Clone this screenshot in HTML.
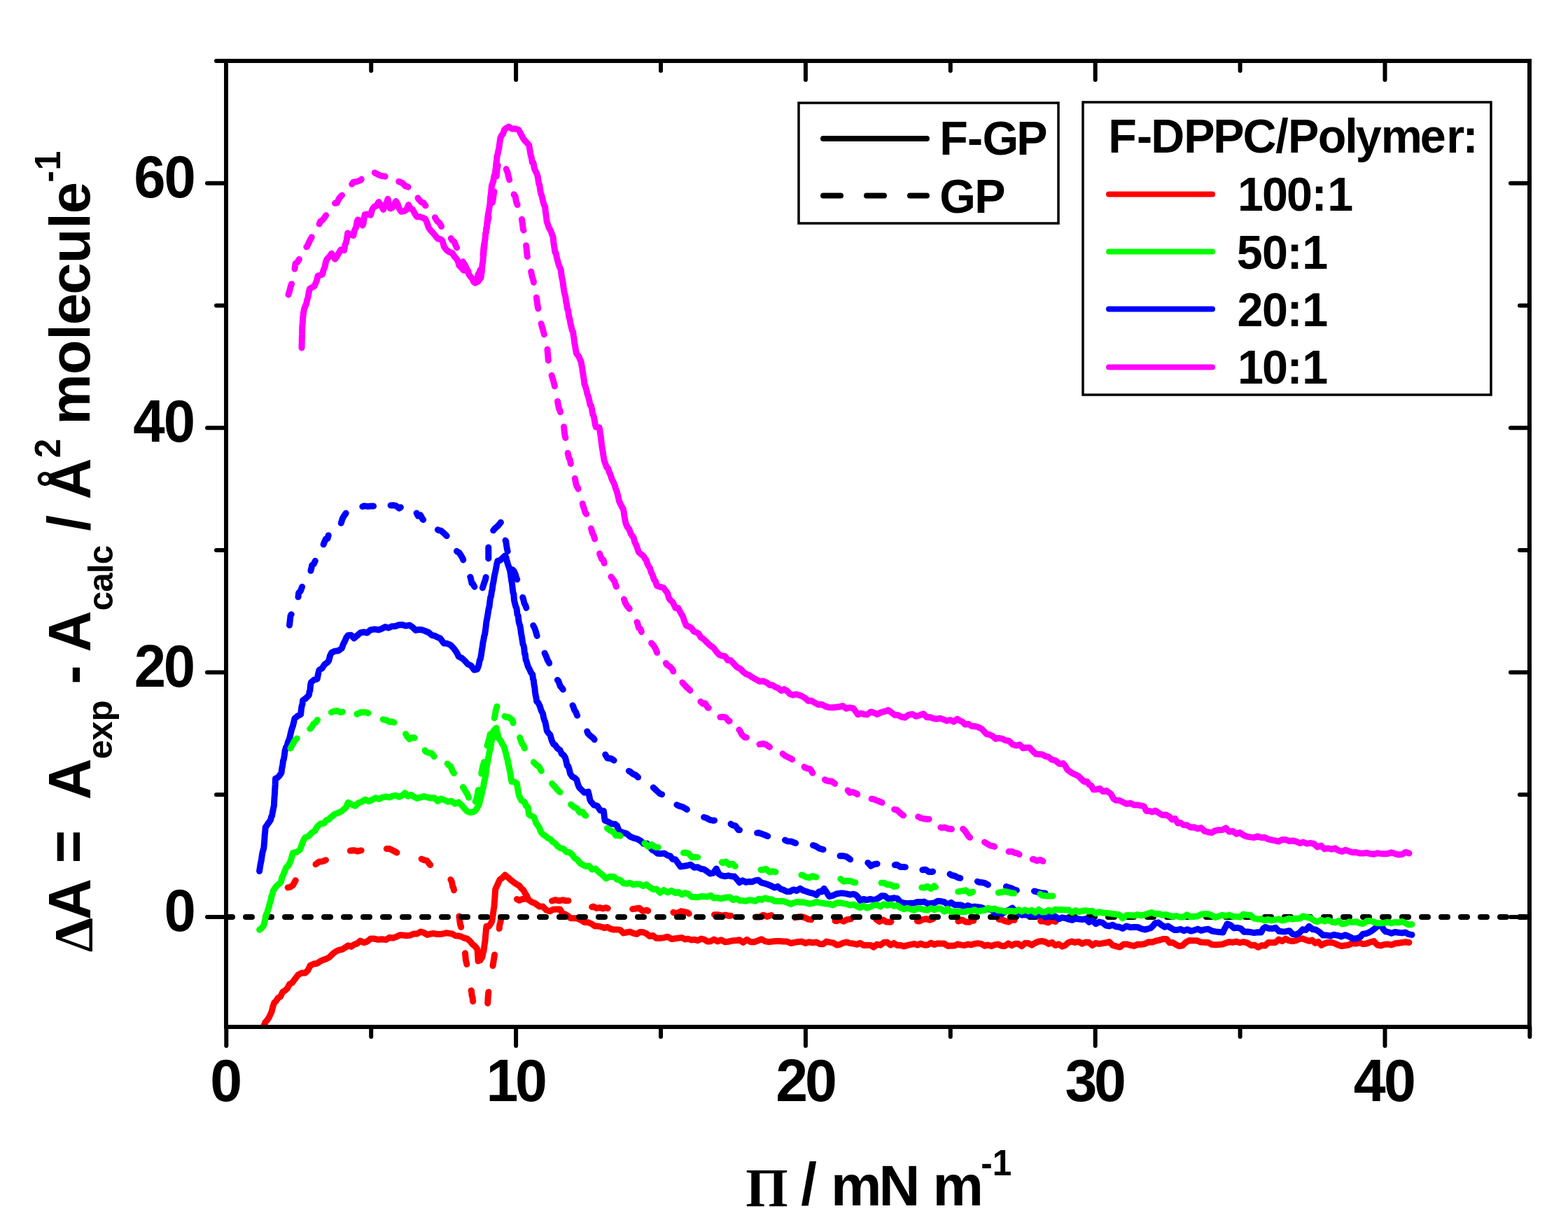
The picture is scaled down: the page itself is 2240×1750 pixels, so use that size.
<!DOCTYPE html>
<html><head><meta charset="utf-8"><title>Delta A vs surface pressure</title>
<style>html,body{margin:0;padding:0;background:#fff;}svg{display:block;}</style>
</head><body>
<svg width="2240" height="1750" viewBox="0 0 2240 1750">
<rect width="2240" height="1750" fill="#fff"/>
<defs><clipPath id="pc"><rect x="323.0" y="87.0" width="1862.0" height="1380.0"/></clipPath></defs>
<g clip-path="url(#pc)">
<polyline points="371.0,1478.0 372.6,1471.6 374.3,1470.0 376.8,1466.0 379.2,1460.0 381.7,1457.4 384.2,1453.5 386.2,1449.4 388.1,1445.1 390.1,1437.2 392.0,1431.9 394.0,1430.6 397.3,1425.5 400.6,1423.7 403.9,1417.1 407.2,1415.0 410.4,1412.1 413.7,1405.8 417.4,1404.0 421.1,1398.9 426.0,1392.6 431.0,1390.1 435.9,1389.9 439.5,1386.7 443.2,1379.4 448.1,1377.0 453.1,1376.3 458.0,1372.9 462.1,1371.3 466.2,1369.8 470.3,1367.6 475.2,1362.7 480.2,1359.0 484.5,1357.1 488.8,1356.3 493.1,1353.7 497.4,1350.7 501.7,1352.4 506.0,1349.3 510.3,1347.9 514.6,1344.0 519.5,1346.6 524.5,1345.1 529.4,1341.0 534.3,1341.0 540.1,1342.3 545.8,1341.8 551.6,1342.4 556.5,1339.2 561.4,1340.0 566.4,1338.3 571.3,1335.7 576.2,1336.0 581.1,1336.8 586.0,1336.1 591.0,1334.1 595.9,1334.0 600.8,1331.1 605.6,1332.4 610.4,1335.4 615.2,1334.1 620.0,1333.6 624.3,1334.5 628.7,1334.6 633.0,1333.8 637.3,1332.8 641.7,1333.4 646.0,1334.0 650.5,1336.7 655.0,1337.1 659.0,1338.0 663.0,1340.0 667.0,1340.9 671.0,1344.0 675.0,1348.9 679.0,1352.1 682.0,1356.4 682.3,1361.2 682.7,1365.9 683.0,1373.0 686.0,1371.6 689.0,1367.2 690.0,1361.5 691.0,1358.3 692.0,1350.8 692.5,1347.2 693.0,1344.3 693.5,1337.8 694.0,1332.5 694.5,1326.8 695.0,1323.2 698.5,1323.5 702.0,1317.8 702.8,1315.8 703.6,1310.6 704.4,1305.5 705.2,1299.5 706.0,1294.4 706.4,1288.1 706.8,1283.3 707.2,1277.7 707.6,1271.0 708.0,1269.6 711.0,1263.3 714.0,1256.7 717.7,1254.0 721.4,1249.9 725.7,1253.4 730.0,1257.3 734.0,1260.5 738.0,1263.2 742.0,1265.5 745.0,1269.3 748.0,1271.9 750.3,1276.5 752.7,1279.9 755.0,1285.4 759.5,1288.6 764.0,1290.3 767.4,1292.7 770.7,1295.1 775.6,1295.1 780.5,1300.1 785.4,1301.9 790.3,1299.2 795.1,1298.9 800.0,1298.9 803.7,1305.2 807.3,1306.0 811.0,1308.4 815.3,1311.8 819.5,1311.8 823.8,1311.8 829.3,1314.0 834.8,1317.5 840.3,1317.7 844.9,1319.6 849.5,1322.9 854.0,1323.1 858.6,1323.9 863.2,1325.5 867.8,1324.5 872.3,1327.0 876.9,1328.1 881.5,1327.9 886.0,1328.5 890.6,1332.9 895.2,1332.0 900.0,1331.1 904.7,1333.2 909.5,1334.5 914.2,1331.4 919.0,1331.8 923.6,1333.7 928.2,1337.6 932.8,1336.5 937.4,1340.3 942.9,1340.2 948.4,1339.6 953.8,1338.2 959.3,1341.5 964.8,1340.7 969.4,1340.1 974.0,1339.4 978.5,1341.9 983.1,1341.3 987.7,1342.7 992.3,1342.2 996.9,1343.6 1001.5,1341.1 1006.0,1342.1 1010.6,1345.1 1015.2,1344.7 1019.8,1342.1 1025.0,1344.8 1030.3,1342.7 1035.5,1345.7 1040.7,1345.2 1045.9,1344.0 1051.2,1343.5 1056.4,1342.7 1061.6,1346.3 1066.9,1342.3 1072.1,1345.5 1077.3,1345.8 1082.5,1343.9 1087.8,1341.8 1093.0,1344.6 1098.2,1345.6 1103.5,1345.0 1108.7,1344.6 1114.0,1344.6 1119.2,1345.0 1124.5,1344.9 1129.7,1347.5 1134.9,1346.4 1140.2,1345.4 1145.4,1345.0 1150.6,1347.4 1155.8,1345.8 1161.1,1346.7 1166.3,1345.9 1171.1,1348.5 1175.9,1348.8 1180.7,1345.1 1185.6,1346.1 1190.4,1346.9 1195.2,1350.0 1200.0,1349.2 1204.8,1346.9 1209.6,1346.0 1214.4,1347.6 1219.2,1348.0 1224.0,1349.2 1228.8,1347.3 1233.7,1350.4 1238.5,1350.3 1243.3,1350.2 1248.1,1353.1 1252.9,1349.0 1257.7,1350.2 1262.5,1346.5 1267.3,1346.0 1272.1,1349.9 1276.9,1347.4 1281.8,1350.4 1286.6,1350.3 1291.4,1351.9 1296.2,1350.4 1301.0,1349.4 1305.8,1348.3 1310.6,1350.0 1315.4,1348.0 1320.2,1349.9 1325.0,1350.0 1329.8,1347.1 1334.6,1349.4 1339.4,1347.8 1344.2,1348.0 1349.0,1348.0 1353.8,1351.4 1358.7,1351.0 1363.5,1351.0 1368.3,1348.8 1373.1,1349.9 1377.9,1350.6 1382.7,1348.9 1387.5,1349.7 1392.3,1348.2 1397.1,1347.6 1401.9,1348.4 1406.7,1351.2 1411.5,1349.9 1416.3,1351.6 1421.2,1349.6 1426.0,1348.9 1430.8,1351.3 1435.6,1351.4 1440.4,1347.9 1445.2,1350.7 1450.0,1348.2 1454.8,1348.3 1459.6,1351.7 1464.4,1347.3 1469.2,1347.5 1474.0,1350.1 1478.9,1347.0 1483.7,1345.0 1488.5,1344.5 1493.3,1345.5 1498.1,1348.4 1502.9,1346.3 1507.7,1350.5 1512.5,1348.8 1517.3,1352.1 1521.8,1350.5 1526.3,1346.4 1530.8,1344.9 1535.8,1346.4 1540.8,1345.2 1545.8,1348.2 1550.8,1346.0 1555.8,1346.3 1560.6,1350.5 1565.4,1347.3 1570.2,1348.4 1575.0,1347.6 1579.8,1346.8 1584.6,1345.6 1589.7,1350.5 1594.9,1351.9 1600.0,1353.1 1605.0,1348.9 1610.1,1348.9 1615.1,1350.3 1620.1,1351.4 1625.2,1349.1 1630.2,1349.3 1635.4,1348.4 1640.6,1345.7 1645.8,1346.1 1650.9,1344.2 1656.1,1343.1 1661.3,1341.5 1666.5,1341.5 1671.0,1346.8 1675.5,1346.5 1680.1,1349.5 1684.6,1351.6 1689.3,1350.8 1694.0,1346.2 1698.7,1343.6 1704.2,1343.7 1709.8,1343.7 1715.4,1346.0 1720.9,1346.2 1726.0,1346.4 1731.0,1349.3 1736.0,1349.8 1741.0,1349.5 1746.1,1349.1 1751.1,1347.1 1756.1,1345.7 1761.2,1346.2 1766.2,1345.1 1771.2,1346.7 1776.4,1345.7 1781.7,1346.8 1786.9,1350.4 1792.2,1350.0 1797.4,1353.3 1802.3,1350.6 1807.2,1350.9 1812.1,1346.4 1817.0,1346.6 1821.9,1346.5 1826.8,1342.0 1831.7,1344.5 1836.5,1341.1 1841.3,1343.7 1846.1,1344.6 1850.8,1343.9 1855.6,1341.7 1860.4,1340.8 1865.2,1342.6 1870.0,1344.3 1874.4,1343.1 1878.8,1347.2 1883.3,1345.4 1887.7,1350.3 1892.1,1347.9 1897.2,1346.4 1902.2,1346.3 1906.9,1347.7 1911.6,1350.0 1916.3,1351.5 1921.4,1350.7 1926.6,1350.1 1931.7,1347.4 1936.9,1348.1 1942.0,1346.6 1947.2,1348.6 1952.3,1348.0 1957.5,1345.8 1962.6,1344.6 1967.7,1350.0 1972.7,1350.9 1977.7,1349.3 1982.8,1348.9 1987.8,1349.9 1992.8,1347.8 1997.9,1347.2 2002.9,1346.5 2008.0,1345.8 2013.0,1346.5" fill="none" stroke="#ff0000" stroke-width="9" stroke-linejoin="round" stroke-linecap="round"/>
<polyline points="411.2,1267.9 414.9,1267.1 418.6,1264.3 422.3,1257.6 426.0,1255.0 429.5,1255.1 433.0,1251.5 436.5,1248.0 440.1,1243.3 443.6,1241.4 447.1,1238.2 450.6,1235.0 455.5,1231.3 460.5,1230.6 465.4,1228.7 470.3,1228.3 475.2,1227.8 480.2,1226.0 485.1,1222.5 490.0,1220.5 495.0,1218.0 499.9,1215.4 505.4,1214.7 510.9,1216.0 516.5,1214.8 522.0,1214.5 526.9,1216.2 531.8,1214.1 536.8,1213.8 541.7,1211.8 546.6,1210.4 551.5,1212.6 556.5,1212.6 561.4,1215.0 567.0,1218.1 572.5,1217.6 578.0,1216.3 583.6,1220.3 588.0,1221.6 592.4,1223.1 596.9,1225.6 601.3,1226.7 605.7,1228.6 610.0,1229.6 614.3,1235.3 618.7,1238.2 623.0,1237.6 627.3,1243.1 631.0,1245.1 634.7,1246.2 637.9,1249.5 641.0,1252.2 644.2,1257.1 645.5,1260.0 646.7,1266.3 648.0,1269.0 649.2,1276.1 650.5,1281.0 651.7,1283.9 653.0,1289.2 653.7,1296.0 654.4,1300.4 655.2,1304.7 655.9,1308.8 656.6,1314.5 657.5,1320.8 658.5,1323.0 659.4,1330.9 660.4,1332.7 661.3,1340.1 662.3,1342.1 663.2,1349.5 663.6,1353.1 664.1,1356.9 664.5,1361.7 665.0,1367.0 665.4,1371.4 666.2,1374.8 667.1,1378.9 667.9,1384.9 668.8,1391.3 669.6,1394.5 670.5,1396.7 671.3,1404.6 672.0,1408.8 672.8,1414.3 673.5,1415.7 674.2,1422.8 675.0,1424.4 675.7,1431.7 676.1,1435.2 676.5,1440.3 676.9,1448.4 677.4,1450.2 677.8,1457.3 678.2,1464.0 678.6,1466.6 679.2,1471.8 679.7,1480.1 680.3,1483.5 680.9,1490.2 681.4,1492.6 682.0,1499.4 686.0,1498.6 690.0,1500.8 690.5,1493.4 691.0,1492.5 691.5,1483.6 692.1,1481.9 692.6,1474.1 693.1,1470.3 693.6,1468.0 694.1,1460.4 694.7,1455.7 695.2,1453.2 695.7,1447.1 696.2,1440.8 696.5,1440.0 696.8,1431.3 697.1,1425.8 697.4,1422.2 697.7,1418.4 698.5,1413.7 699.4,1405.7 700.2,1401.5 701.0,1394.9 701.8,1391.5 702.7,1387.6 703.5,1382.3 704.4,1377.7 705.3,1371.8 706.1,1367.0 707.0,1361.0 707.9,1354.7 708.7,1349.0 709.6,1346.3 710.4,1340.2 711.3,1334.6 712.1,1331.6 713.0,1328.8 713.8,1321.0 714.8,1318.1 715.7,1312.3 716.7,1308.0 719.6,1301.5 722.6,1300.2 725.5,1292.2 729.4,1291.3 733.3,1288.1 737.2,1283.9 741.7,1286.3 746.1,1284.4 750.5,1284.0 755.0,1283.9 760.3,1283.2 765.7,1281.6 771.0,1282.6 775.4,1283.3 779.8,1286.6 784.1,1287.7 788.5,1287.0" fill="none" stroke="#ff0000" stroke-width="9" stroke-linejoin="round" stroke-linecap="round" stroke-dasharray="16 38"/>
<polyline points="788.5,1287.0 793.5,1285.6 798.5,1286.8 803.5,1285.8 808.5,1286.7 813.5,1286.6 818.5,1285.6 823.5,1286.9 828.5,1292.0 833.5,1291.0 838.5,1292.4 843.1,1296.5 847.6,1295.0 852.2,1297.4 856.8,1296.6 861.3,1298.0 865.9,1296.7 870.5,1298.6 875.1,1299.5 879.6,1297.9 884.2,1298.7 888.8,1298.2 893.4,1295.4 898.4,1299.0 903.3,1298.7 908.3,1298.0 913.3,1297.3 918.3,1301.5 923.2,1300.3 928.2,1301.9 933.3,1302.6 938.4,1301.8 943.6,1302.8 948.7,1300.4 953.8,1302.2 958.5,1301.3 963.2,1304.1 967.9,1304.5 972.7,1301.8 977.4,1302.6 982.1,1303.6 986.8,1307.5 991.7,1305.4 996.6,1306.4 1001.5,1305.1 1006.3,1306.1 1011.2,1305.7 1016.1,1305.7 1021.1,1306.8 1026.2,1306.8 1031.2,1308.2 1036.2,1307.2 1041.3,1308.3 1046.3,1308.0 1051.4,1308.6 1056.4,1307.2 1061.0,1305.8 1065.6,1309.8 1070.1,1311.2 1074.7,1311.9 1079.9,1309.9 1085.2,1310.0 1090.4,1307.2 1095.7,1309.4 1100.9,1307.8 1106.2,1306.0 1111.4,1304.5 1116.9,1308.9 1122.3,1310.4 1127.8,1307.4 1133.3,1311.4 1138.6,1310.2 1143.8,1309.5 1149.1,1310.5 1154.4,1313.1 1159.7,1314.0 1165.0,1310.8 1170.2,1313.8 1175.5,1311.7 1180.4,1314.7 1185.3,1313.0 1190.2,1315.4 1195.1,1315.8 1200.0,1313.7 1205.1,1316.2 1210.3,1313.6 1215.4,1312.9 1220.5,1315.5 1225.7,1313.4 1230.8,1314.5 1235.9,1315.2 1241.0,1316.0 1246.2,1313.8 1251.3,1313.1 1256.4,1316.6 1261.5,1314.0 1266.6,1317.1 1271.8,1317.2 1276.9,1315.2 1282.0,1315.9 1287.2,1316.5 1292.3,1317.3 1297.4,1316.5 1302.6,1315.7 1307.7,1315.3 1312.8,1316.1 1318.0,1313.6 1323.1,1312.6 1328.2,1314.2 1333.3,1312.4 1338.4,1313.0 1343.6,1316.3 1348.7,1314.6 1353.8,1315.0 1358.9,1313.0 1364.1,1315.1 1369.2,1316.1 1374.3,1314.0 1379.5,1316.9 1384.6,1317.3 1389.7,1314.6 1394.9,1317.0 1400.0,1316.1 1405.1,1316.9 1410.3,1315.3 1415.4,1316.7 1420.5,1316.7 1425.7,1313.4 1430.8,1313.4 1435.9,1315.9 1441.1,1317.0 1446.2,1313.7 1451.3,1314.9 1456.4,1315.8 1461.6,1315.0 1466.7,1315.5 1471.8,1315.6 1476.9,1316.1 1482.0,1317.1 1487.2,1315.8 1492.3,1316.2 1497.4,1317.9 1502.6,1314.6 1507.7,1316.7" fill="none" stroke="#ff0000" stroke-width="9" stroke-linejoin="round" stroke-linecap="round" stroke-dasharray="24 38"/>
<line x1="323.0" y1="1310.0" x2="2185.0" y2="1310.0" stroke="#000" stroke-width="8" stroke-linecap="round" stroke-dasharray="9 19"/>
<polyline points="370.6,1244.5 371.5,1238.4 372.4,1232.9 373.3,1229.3 374.1,1223.3 375.0,1217.9 375.9,1214.5 376.8,1211.8 377.3,1205.9 377.8,1200.4 378.2,1192.6 378.7,1188.6 379.2,1182.0 382.9,1176.6 386.6,1171.3 387.6,1166.9 388.6,1165.3 389.5,1160.0 390.5,1155.1 391.5,1150.3 391.8,1142.7 392.1,1138.2 392.4,1134.6 392.6,1130.0 392.9,1125.6 393.2,1120.7 393.5,1112.2 396.3,1111.1 399.2,1108.1 402.0,1104.0 402.8,1097.4 403.7,1093.6 404.5,1086.7 405.3,1085.2 406.2,1079.8 407.0,1073.2 408.5,1067.6 410.0,1065.8 411.5,1059.8 413.0,1056.7 414.3,1052.0 415.6,1046.0 416.9,1041.1 418.3,1037.4 419.6,1032.2 420.9,1026.5 425.2,1022.8 429.6,1020.7 430.4,1012.9 431.1,1008.5 431.9,1006.7 432.6,1000.7 437.0,997.5 441.4,992.8 442.1,987.8 442.9,986.3 443.6,978.4 444.3,974.9 448.7,971.1 453.1,970.1 454.6,962.6 456.0,957.1 459.9,954.9 463.8,949.1 467.7,946.3 469.7,943.9 471.6,936.4 473.6,932.4 478.5,930.2 483.4,929.6 488.3,926.0 490.5,919.9 492.6,916.0 494.8,910.9 497.0,907.7 501.4,907.3 505.8,911.7 510.2,908.1 514.6,904.0 519.5,903.0 524.4,904.0 529.3,899.9 535.1,898.9 541.0,899.8 545.7,898.0 550.4,895.5 555.1,897.0 559.8,894.7 564.5,894.7 569.6,892.7 574.8,892.6 579.9,894.1 585.0,893.1 589.4,896.0 593.8,900.4 598.2,899.4 602.6,899.8 607.5,901.5 612.3,903.5 617.2,907.6 621.1,908.3 625.1,910.4 629.0,912.0 633.9,918.9 638.7,919.3 643.6,921.3 646.5,924.3 649.5,927.9 652.4,932.1 655.3,938.0 659.7,940.1 664.1,944.0 668.5,948.9 672.9,950.8 677.3,957.0 681.7,956.0 682.9,953.1 684.1,949.5 685.2,943.3 686.4,941.1 687.6,934.2 688.4,928.3 689.2,924.1 690.0,917.6 690.8,914.4 691.7,908.7 692.5,906.7 693.3,901.5 694.1,895.2 694.9,888.2 695.7,884.2 696.6,879.1 697.4,874.0 698.2,869.1 699.0,866.9 699.9,858.6 700.7,853.2 701.5,852.1 702.4,845.4 703.2,842.3 704.1,834.7 704.9,831.8 705.8,825.7 706.6,821.3 707.7,816.7 708.8,811.2 709.9,805.0 711.0,801.1 714.4,800.6 717.9,797.3 721.3,794.0 722.8,795.8 724.2,801.6 725.7,806.6 727.1,810.3 728.6,815.5 729.3,819.4 730.1,825.1 730.8,830.3 731.5,833.6 732.3,841.6 733.0,846.9 733.8,848.2 734.5,857.3 735.7,862.5 736.8,866.5 738.0,869.0 739.1,878.0 740.3,879.9 741.1,888.2 742.0,891.5 742.8,893.4 743.7,898.5 744.5,905.2 745.4,909.5 746.2,914.9 747.0,920.3 747.9,921.8 748.7,925.4 749.5,934.1 750.3,934.7 751.2,943.1 752.0,944.3 754.2,951.8 756.4,956.0 758.6,960.9 760.8,963.8 761.5,970.0 762.3,971.8 763.0,978.6 763.8,981.9 764.5,989.1 765.2,993.4 766.0,996.8 766.7,1001.8 768.9,1004.0 771.1,1008.5 773.3,1015.3 775.5,1019.3 776.7,1025.6 777.8,1029.1 779.0,1031.8 780.1,1037.4 781.3,1043.9 783.7,1047.5 786.0,1049.9 788.4,1058.3 790.7,1062.9 793.1,1064.4 796.5,1069.3 800.0,1071.5 802.4,1076.9 804.9,1078.5 807.3,1081.8 808.8,1087.3 810.3,1093.9 811.7,1094.4 813.2,1098.9 814.7,1105.5 817.7,1109.7 820.8,1111.1 823.8,1113.8 825.6,1120.6 827.5,1125.1 829.3,1126.9 834.8,1132.3 840.3,1131.1 841.5,1135.8 842.8,1142.4 844.0,1144.9 848.5,1150.2 853.1,1151.1 857.7,1157.9 862.3,1158.5 862.9,1162.6 863.5,1168.4 864.1,1172.0 869.0,1174.1 873.9,1176.9 878.8,1177.3 881.5,1179.7 884.2,1186.6 889.7,1189.4 895.2,1190.9 900.1,1195.0 905.0,1197.1 909.9,1198.3 914.8,1200.9 919.6,1205.4 924.5,1205.1 928.2,1210.1 931.9,1214.2 935.5,1215.9 939.2,1219.3 944.1,1219.6 948.9,1218.9 953.8,1222.1 957.5,1222.9 961.1,1227.6 964.8,1227.7 968.5,1232.9 972.2,1238.1 977.1,1237.3 981.9,1236.5 986.8,1235.2 991.7,1239.2 996.6,1238.7 1001.5,1241.2 1005.8,1241.9 1010.0,1244.7 1014.3,1248.0 1018.8,1247.3 1023.4,1240.9 1027.1,1248.7 1030.8,1250.9 1035.7,1251.8 1040.5,1250.8 1045.4,1252.0 1049.1,1252.1 1052.7,1255.9 1056.4,1260.7 1061.0,1257.8 1065.6,1260.4 1070.1,1259.4 1074.7,1259.7 1079.0,1257.9 1083.2,1257.3 1087.5,1260.8 1092.4,1262.1 1097.3,1263.8 1102.2,1265.7 1106.6,1268.1 1111.0,1266.4 1115.4,1270.1 1119.8,1271.6 1124.2,1273.7 1128.8,1273.5 1133.3,1270.9 1138.2,1272.5 1143.1,1269.3 1148.0,1272.3 1152.6,1273.7 1157.2,1275.4 1161.7,1276.2 1166.3,1278.6 1170.0,1273.8 1173.6,1274.1 1177.3,1269.4 1180.9,1274.8 1184.6,1280.6 1189.7,1279.3 1194.9,1277.0 1200.0,1276.1 1204.8,1276.1 1209.6,1276.9 1214.4,1278.1 1219.2,1277.2 1222.4,1278.2 1225.6,1281.4 1228.8,1286.4 1233.6,1284.5 1238.4,1285.6 1243.3,1284.3 1248.1,1285.5 1251.9,1284.5 1255.8,1282.6 1259.6,1279.7 1264.1,1279.9 1268.6,1283.8 1273.0,1283.6 1277.5,1282.8 1282.0,1283.7 1286.5,1289.0 1291.3,1290.0 1296.2,1290.7 1301.0,1290.3 1305.8,1290.0 1310.6,1288.5 1315.4,1288.7 1320.2,1288.1 1325.0,1290.7 1329.8,1290.5 1334.6,1290.0 1339.4,1287.3 1344.2,1287.6 1349.0,1288.6 1353.8,1292.1 1358.7,1289.3 1363.5,1292.7 1368.3,1292.8 1373.1,1292.9 1377.9,1295.7 1382.7,1293.6 1387.5,1295.7 1392.3,1295.1 1397.1,1295.8 1401.9,1296.4 1406.7,1298.6 1411.5,1298.7 1416.3,1299.4 1421.2,1304.5 1426.0,1302.3 1430.8,1305.9 1435.9,1302.5 1441.1,1300.1 1446.2,1297.2 1450.7,1301.7 1455.1,1304.6 1459.6,1307.2 1464.4,1306.8 1469.2,1307.7 1474.0,1308.1 1478.9,1307.7 1483.7,1307.8 1488.5,1306.6 1493.3,1310.2 1498.1,1309.3 1502.9,1308.1 1507.7,1309.2 1512.5,1312.9 1517.3,1310.8 1522.1,1311.7 1526.9,1313.3 1531.8,1314.4 1536.6,1312.4 1541.4,1313.0 1546.2,1313.5 1551.0,1312.7 1555.8,1317.4 1560.6,1314.6 1565.4,1319.7 1570.2,1317.1 1575.0,1318.1 1579.8,1322.1 1584.6,1323.0 1589.4,1321.3 1594.2,1323.7 1599.0,1324.3 1603.8,1326.4 1609.2,1323.0 1614.7,1324.8 1620.1,1324.5 1625.1,1324.5 1630.2,1326.7 1635.2,1328.0 1640.3,1326.8 1643.7,1325.8 1647.0,1322.8 1650.4,1318.7 1654.9,1318.0 1659.5,1321.6 1664.0,1324.3 1668.5,1323.0 1673.0,1325.9 1677.5,1328.4 1682.1,1328.5 1686.6,1327.4 1691.5,1329.7 1696.4,1327.7 1701.3,1330.1 1706.2,1328.9 1711.1,1327.1 1716.0,1329.3 1720.9,1327.9 1726.1,1327.2 1731.4,1330.0 1736.6,1330.9 1741.9,1331.5 1747.1,1332.1 1749.1,1327.4 1751.1,1323.9 1753.1,1319.8 1757.9,1321.6 1762.8,1325.9 1767.6,1325.3 1772.5,1326.3 1777.3,1331.3 1782.1,1331.0 1787.0,1331.8 1791.8,1332.6 1796.7,1331.7 1801.5,1332.1 1804.5,1326.5 1807.5,1324.5 1812.4,1326.3 1817.3,1326.6 1822.3,1325.3 1827.2,1330.3 1832.1,1330.9 1837.0,1330.7 1842.0,1329.7 1846.9,1334.7 1851.8,1334.9 1856.3,1332.7 1860.9,1327.7 1865.5,1328.6 1870.0,1323.3 1875.0,1327.5 1880.0,1328.3 1885.1,1331.5 1890.1,1336.1 1895.3,1336.1 1900.6,1337.0 1905.8,1335.3 1911.1,1336.3 1916.3,1337.9 1921.8,1335.8 1927.4,1338.0 1933.0,1341.0 1938.5,1340.5 1942.8,1338.9 1947.0,1334.2 1951.3,1333.8 1955.6,1332.1 1959.9,1329.6 1964.2,1326.3 1968.4,1323.0 1972.7,1320.2 1976.1,1327.4 1979.4,1330.9 1982.8,1331.4 1987.8,1333.3 1992.8,1331.5 1997.9,1332.2 2002.9,1332.9 2007.6,1331.9 2012.3,1334.6 2017.0,1335.4" fill="none" stroke="#0000ff" stroke-width="9" stroke-linejoin="round" stroke-linecap="round"/>
<polyline points="413.5,893.3 414.0,888.9 414.5,884.6 415.0,879.9 417.1,875.9 419.1,870.3 421.2,866.4 423.2,857.8 425.3,855.0 426.0,852.8 426.7,847.1 429.4,844.2 432.1,836.9 434.8,834.5 437.4,829.6 440.1,827.0 442.8,823.2 443.8,815.9 444.8,811.9 445.8,807.3 448.3,805.5 450.8,800.2 453.3,793.0 455.9,791.2 458.4,783.6 460.9,781.1 463.4,774.4 465.6,769.8 467.8,769.6 469.9,762.6 472.1,758.6 476.5,758.6 480.9,754.7 485.3,748.7 487.3,747.3 489.2,741.0 491.2,737.3 495.1,731.8 499.0,731.6 502.9,727.0 508.8,726.8 514.6,725.0 519.8,722.8 524.9,723.4 530.1,722.9 535.2,723.1 539.6,720.9 543.9,720.0 548.3,719.4 552.7,717.9 557.1,722.0 561.5,721.7 565.9,722.7 570.3,726.1 574.7,723.2 579.5,724.7 584.2,727.6 589.0,730.8 593.8,730.2 597.2,737.1 600.6,735.9 604.0,742.0 608.4,745.6 612.8,745.2 617.2,751.8 621.6,753.2 626.0,757.3 630.0,758.1 634.0,761.6 638.1,765.5 642.1,772.2 644.8,772.8 647.6,779.3 650.3,784.0 653.0,788.0 655.7,789.4 658.5,793.4 661.2,798.1 663.0,804.0 664.9,805.8 666.7,813.4 668.5,818.4 670.3,823.4 672.1,824.5 674.0,833.3 675.8,834.3 678.7,839.8 681.7,845.4 684.6,851.1 686.8,843.5 689.0,840.9 691.2,834.1 693.4,828.0 694.5,822.9 695.6,817.1 696.7,811.6 697.8,806.8 697.8,804.1 697.8,800.4 697.8,791.7 697.8,786.2 697.8,785.3 697.8,778.3 697.8,772.7 698.5,766.1 699.3,761.8 703.3,759.5 707.3,754.6 711.4,751.2 715.4,746.2 716.9,755.3 718.3,756.7 719.8,764.0 721.2,770.8 722.7,773.0 723.7,780.4 724.8,786.2 725.8,789.6 726.9,795.1 727.9,796.9 729.0,803.2 730.0,806.8 732.1,813.9 734.1,815.6 736.2,820.4 738.2,826.9 740.3,830.3 741.6,835.7 742.8,838.2 744.1,843.2 745.3,849.1 746.6,852.8 747.8,856.8 749.1,862.1 750.9,865.3 752.6,870.8 754.4,877.8 756.1,882.1 757.9,885.1 759.9,889.4 761.8,893.6 763.8,897.3 765.7,903.0 767.6,910.2 769.6,915.4 771.8,917.9 774.0,924.6 776.2,929.3 778.4,933.7 780.4,938.2 782.3,943.2 784.2,946.1 786.2,952.3 788.1,955.1 790.1,960.6 792.7,966.3 795.2,970.3 797.8,972.9 800.4,980.2 803.1,983.3 805.8,987.4 808.5,989.3 811.1,996.0 813.8,999.1 816.5,1005.4 818.6,1008.5 820.6,1014.2 822.7,1017.5 824.7,1022.3 826.8,1024.4 829.4,1030.0 832.0,1034.6 834.7,1039.2 837.3,1041.3 839.9,1047.7 843.7,1051.5 847.5,1054.4 851.3,1059.4 854.0,1063.3 856.8,1065.3 859.5,1069.3 862.3,1071.7 865.0,1078.6 867.8,1083.0 873.3,1083.7 878.8,1087.4 883.1,1090.6 887.3,1093.7 891.6,1094.4 895.9,1100.1 900.1,1102.3 904.4,1105.7 908.7,1107.7 912.9,1111.6 917.2,1115.3 921.3,1117.9 925.5,1121.5 929.6,1121.6 933.7,1125.4 938.3,1129.8 942.9,1134.0 947.4,1135.3 952.0,1140.5 956.6,1143.5 961.1,1144.1 965.7,1149.2 970.3,1151.4 975.1,1152.8 979.8,1155.4 984.6,1158.4 989.3,1160.0 994.1,1162.3 999.1,1163.4 1004.2,1167.1 1009.2,1168.5 1014.3,1171.4 1018.9,1172.2 1023.5,1171.6 1028.0,1175.4 1032.6,1172.4 1037.2,1175.1 1041.8,1175.4 1046.2,1178.6 1050.6,1179.8 1054.9,1185.5 1059.3,1186.1 1063.7,1187.2 1068.6,1190.0 1073.5,1188.0 1078.3,1190.3 1083.2,1189.7 1088.1,1191.1 1093.0,1193.0 1097.1,1194.7 1101.2,1195.2 1105.4,1199.3 1109.5,1200.8 1114.6,1200.0 1119.8,1199.3 1124.9,1201.7 1130.1,1201.9 1135.2,1204.0 1140.7,1205.9 1146.1,1206.1 1151.6,1206.8 1156.4,1210.3 1161.2,1207.5 1165.9,1209.1 1170.7,1212.2 1175.5,1213.5 1180.1,1213.7 1184.7,1218.2 1189.2,1221.6 1193.8,1221.7 1199.0,1222.7 1204.2,1222.7 1209.4,1223.8 1214.6,1227.7 1219.8,1225.9 1225.0,1229.3 1229.8,1231.0 1234.6,1231.6 1239.4,1232.0 1244.2,1237.1 1248.7,1234.7 1253.2,1234.0 1257.7,1233.2 1262.3,1236.7 1266.9,1235.1 1271.6,1234.8 1276.2,1236.2 1280.8,1235.2 1286.2,1238.4 1291.6,1238.6 1296.9,1238.9 1302.3,1242.0 1307.7,1243.1 1312.5,1240.1 1317.3,1242.8 1322.1,1242.2 1326.9,1245.6 1331.5,1245.5 1336.1,1243.7 1340.8,1244.4 1345.4,1244.4 1350.0,1248.7 1354.8,1247.3 1359.6,1250.4 1364.4,1251.5 1369.2,1253.9 1374.2,1254.9 1379.2,1256.7 1384.2,1255.0 1389.2,1259.0 1394.2,1258.1 1398.5,1260.3 1402.8,1260.7 1407.2,1261.7 1411.5,1263.9 1416.3,1264.5 1421.1,1264.8 1426.0,1267.3 1430.8,1267.5 1435.6,1265.8 1440.4,1267.6 1445.4,1269.1 1450.4,1271.7 1455.4,1272.1 1460.4,1271.1 1465.4,1269.4 1470.8,1273.5 1476.2,1272.7 1481.5,1274.2 1486.9,1275.5 1492.3,1276.0 1497.3,1275.7 1502.3,1278.0 1507.3,1276.0 1512.3,1276.4 1517.3,1277.3" fill="none" stroke="#0000ff" stroke-width="9" stroke-linejoin="round" stroke-linecap="round" stroke-dasharray="16 27"/>
<polyline points="370.6,1328.2 373.7,1325.8 376.8,1322.2 378.0,1316.4 379.2,1311.2 380.5,1305.7 381.7,1304.3 382.9,1299.1 384.1,1296.1 385.4,1290.1 386.6,1287.5 387.8,1280.4 389.1,1277.8 390.3,1272.6 394.0,1267.1 397.7,1263.6 401.4,1260.1 403.0,1253.0 404.7,1249.7 406.3,1245.8 408.8,1239.4 411.2,1237.6 413.7,1233.0 415.3,1229.6 417.0,1223.3 418.6,1218.1 423.6,1217.5 428.5,1213.8 431.0,1207.3 433.4,1200.8 435.9,1196.4 440.8,1194.6 445.7,1189.4 449.4,1187.4 453.1,1180.9 458.0,1176.7 462.9,1176.3 466.2,1171.7 469.5,1170.9 472.8,1167.5 477.7,1163.3 482.7,1161.4 487.6,1159.2 490.9,1156.4 494.1,1153.9 497.4,1146.4 502.4,1149.1 507.3,1151.3 512.2,1147.0 517.1,1145.2 522.0,1142.2 527.0,1144.8 531.9,1142.4 536.8,1139.8 541.7,1141.4 546.6,1139.1 551.5,1138.1 556.5,1139.0 561.4,1137.0 565.7,1136.4 570.0,1138.4 574.3,1136.7 578.6,1132.8 582.7,1137.4 586.9,1135.2 591.0,1137.9 595.9,1140.4 600.8,1139.1 605.7,1137.7 610.6,1139.0 615.5,1140.0 620.5,1139.7 625.4,1144.5 630.3,1141.0 635.2,1143.2 640.2,1145.3 645.1,1144.4 650.0,1148.1 655.0,1146.1 659.9,1150.6 663.6,1155.1 667.3,1159.0 672.2,1160.7 677.1,1159.4 679.6,1157.4 682.0,1153.5 684.5,1148.6 685.7,1143.4 687.0,1139.6 688.2,1133.3 689.4,1127.0 690.4,1125.0 691.4,1117.9 692.3,1114.0 693.3,1110.4 694.3,1102.8 695.1,1096.3 696.0,1091.0 696.8,1087.3 697.8,1081.4 698.8,1076.0 699.7,1071.9 700.7,1069.1 701.7,1061.2 702.5,1057.6 703.4,1055.3 704.2,1049.8 705.0,1044.0 709.0,1039.9 710.0,1044.9 711.0,1048.4 712.0,1054.5 715.2,1058.1 718.5,1064.3 720.1,1066.6 721.6,1072.4 723.2,1078.1 724.2,1082.7 725.1,1085.2 726.0,1091.0 727.0,1094.6 728.0,1099.8 729.0,1105.0 729.9,1111.2 730.9,1116.6 734.8,1117.0 738.6,1119.0 739.5,1126.6 740.3,1130.5 741.2,1135.9 745.1,1143.7 749.0,1145.3 751.5,1151.2 754.1,1152.8 755.0,1159.6 755.8,1163.6 756.7,1164.4 763.1,1167.5 765.6,1175.6 768.1,1178.9 770.6,1182.8 773.1,1189.1 776.4,1192.5 779.7,1194.4 783.0,1197.6 786.3,1198.7 789.5,1202.6 792.8,1204.4 796.9,1209.2 800.9,1211.8 805.0,1212.4 809.0,1217.2 813.0,1217.6 817.0,1220.3 821.0,1225.9 825.0,1228.3 829.0,1233.5 833.0,1235.6 837.3,1237.7 841.5,1237.0 845.8,1242.0 850.7,1241.1 855.5,1245.9 860.4,1249.6 863.1,1252.3 865.9,1255.0 871.4,1252.2 876.9,1252.4 881.5,1256.4 886.1,1257.2 890.7,1261.7 895.2,1262.4 899.8,1261.3 904.4,1263.7 909.2,1263.0 913.9,1263.0 918.7,1265.6 923.4,1263.5 928.2,1267.4 933.1,1270.6 938.0,1270.0 942.9,1275.3 948.4,1271.6 953.8,1275.0 959.3,1272.4 964.8,1275.5 969.4,1274.5 974.0,1278.0 978.6,1275.5 983.2,1277.1 987.8,1281.2 992.4,1281.4 996.9,1281.8 1001.5,1280.5 1006.1,1280.7 1010.6,1281.1 1015.2,1279.3 1019.8,1283.0 1024.4,1282.4 1028.9,1283.7 1033.5,1283.0 1038.1,1281.9 1042.7,1281.7 1047.2,1285.5 1051.8,1283.7 1056.4,1286.5 1061.0,1286.6 1065.6,1287.2 1070.1,1285.8 1074.7,1286.2 1079.3,1287.3 1083.8,1284.2 1088.4,1285.4 1093.0,1282.9 1097.6,1284.4 1102.2,1284.7 1106.8,1287.5 1111.4,1287.6 1116.0,1287.3 1120.6,1287.8 1125.1,1289.7 1129.7,1291.7 1134.3,1289.5 1138.8,1288.4 1143.4,1289.1 1148.0,1288.8 1152.6,1290.2 1157.2,1291.2 1161.7,1290.2 1166.3,1288.5 1170.9,1289.6 1175.4,1290.3 1180.0,1291.1 1184.6,1291.3 1189.7,1293.0 1194.9,1290.0 1200.0,1289.5 1204.8,1290.7 1209.6,1291.4 1214.4,1293.1 1219.2,1292.1 1224.0,1294.4 1228.8,1296.7 1233.7,1294.1 1238.5,1297.1 1243.3,1295.4 1248.1,1293.3 1252.9,1292.6 1257.7,1295.1 1262.5,1291.6 1267.3,1293.6 1272.1,1291.9 1276.9,1294.1 1281.8,1293.5 1286.6,1296.8 1291.4,1298.8 1296.2,1297.3 1301.0,1298.8 1305.8,1300.4 1310.6,1297.6 1315.4,1298.4 1320.2,1299.5 1325.0,1300.1 1329.8,1297.4 1334.6,1299.8 1339.4,1297.8 1344.2,1298.1 1349.0,1302.2 1353.8,1298.4 1358.6,1302.6 1363.4,1302.1 1368.2,1302.1 1373.1,1302.7 1377.9,1302.6 1382.7,1301.4 1387.5,1301.4 1392.3,1299.7 1397.1,1302.0 1401.9,1301.0 1406.7,1300.4 1411.5,1297.2 1416.3,1299.2 1421.1,1298.1 1426.0,1300.7 1430.8,1300.8 1435.6,1302.3 1440.4,1301.3 1445.2,1301.5 1450.0,1302.3 1454.8,1299.6 1459.6,1302.1 1464.4,1299.9 1469.2,1301.7 1474.0,1300.3 1478.8,1303.6 1483.7,1299.3 1488.5,1302.9 1493.3,1302.7 1498.1,1300.1 1502.9,1302.2 1507.7,1299.1 1512.5,1299.8 1517.3,1299.5 1522.1,1300.1 1526.9,1300.1 1531.7,1303.7 1536.5,1300.5 1541.3,1302.7 1546.2,1301.3 1551.0,1300.7 1555.8,1301.9 1560.6,1301.2 1565.4,1305.0 1570.2,1302.7 1575.0,1304.0 1579.8,1304.2 1584.6,1304.8 1589.4,1305.6 1594.2,1306.1 1599.0,1307.0 1603.8,1311.7 1609.2,1307.5 1614.7,1307.6 1620.1,1308.1 1625.1,1306.6 1630.2,1307.8 1635.2,1306.8 1640.3,1305.1 1645.3,1303.5 1650.3,1305.7 1655.4,1305.3 1660.4,1307.2 1665.5,1306.5 1670.5,1308.0 1675.5,1309.3 1680.6,1308.6 1685.6,1310.0 1690.7,1310.1 1695.7,1306.7 1700.7,1309.8 1705.8,1309.3 1710.8,1308.9 1715.9,1306.3 1720.9,1305.6 1725.9,1305.8 1731.0,1307.6 1736.0,1310.5 1741.0,1309.1 1746.0,1307.3 1751.1,1308.3 1756.2,1307.1 1761.2,1309.2 1766.2,1309.6 1771.2,1310.1 1776.3,1306.1 1781.3,1307.2 1786.3,1307.3 1791.4,1312.0 1796.5,1312.9 1801.5,1312.8 1806.5,1315.0 1811.5,1313.4 1816.6,1314.9 1821.6,1313.9 1826.6,1312.8 1831.7,1315.0 1836.8,1313.8 1841.8,1312.1 1846.8,1313.1 1851.8,1311.9 1856.9,1312.3 1861.9,1308.8 1867.0,1310.3 1872.0,1311.5 1877.0,1314.9 1882.1,1316.7 1887.1,1314.3 1892.2,1315.9 1897.2,1314.2 1902.2,1316.8 1907.2,1317.9 1912.2,1315.4 1917.3,1320.0 1922.3,1319.2 1927.3,1316.7 1932.4,1317.6 1937.5,1316.6 1942.5,1319.0 1947.5,1319.5 1952.5,1315.8 1957.6,1315.5 1962.6,1317.1 1967.6,1318.7 1972.7,1318.8 1977.8,1318.2 1982.8,1317.3 1987.8,1318.8 1992.8,1317.3 1997.9,1318.1 2002.9,1316.3 2007.6,1318.5 2012.3,1321.1 2017.0,1320.5" fill="none" stroke="#00ff00" stroke-width="9" stroke-linejoin="round" stroke-linecap="round"/>
<polyline points="415.0,1069.0 418.0,1063.4 421.0,1057.8 424.0,1055.2 428.2,1050.0 432.5,1049.4 436.8,1046.0 441.0,1042.1 444.5,1040.0 448.0,1034.0 451.5,1031.7 455.0,1026.1 459.5,1024.0 464.0,1023.3 468.5,1022.9 473.0,1017.7 477.5,1015.9 482.0,1015.6 486.5,1017.7 491.0,1016.8 495.5,1016.8 500.0,1020.1 505.0,1016.3 510.0,1020.1 515.0,1017.8 520.0,1017.4 525.0,1018.3 530.0,1020.2 535.0,1023.4 539.2,1022.4 543.4,1026.0 547.6,1028.0 551.8,1028.6 556.0,1031.2 560.7,1031.1 565.3,1033.1 570.0,1035.7 573.0,1041.6 576.0,1044.3 579.0,1047.6 582.0,1052.6 585.0,1055.8 589.5,1053.6 594.0,1054.3 596.8,1057.7 599.6,1059.5 602.4,1064.7 605.2,1068.3 608.0,1073.7 612.2,1075.4 616.4,1075.9 620.6,1081.3 624.8,1079.9 629.0,1083.6 633.0,1088.1 637.0,1088.5 641.0,1093.0 643.8,1095.0 646.6,1101.7 649.4,1106.2 652.2,1109.3 655.0,1114.7 657.4,1116.3 659.9,1122.1 662.3,1125.8 664.7,1129.9 667.1,1133.5 669.6,1139.4 672.0,1144.0 673.3,1146.2 674.7,1151.4 676.0,1153.1 677.5,1150.9 679.0,1145.6 680.5,1142.2 682.0,1136.4 683.0,1129.1 684.0,1124.5 685.0,1120.7 686.0,1112.9 687.0,1109.8 688.0,1103.5 689.0,1098.3 690.0,1093.1 691.0,1091.5 692.0,1083.9 693.0,1079.7 694.0,1075.7 695.0,1073.1 696.0,1064.9 697.0,1061.8 698.0,1057.7 699.0,1054.7 700.0,1049.9 701.0,1045.6 702.0,1038.5 703.0,1034.6 704.3,1029.7 705.7,1027.4 707.0,1023.0 708.3,1014.8 709.7,1010.2 711.0,1005.8 713.5,1011.3 716.0,1017.9 719.0,1021.9 722.0,1024.0 727.0,1024.8 732.0,1028.6 733.3,1033.8 734.7,1040.0 736.0,1047.0 739.0,1049.3 742.0,1052.1 744.0,1057.5 746.0,1062.8 748.0,1065.0 750.8,1073.2 753.6,1077.0 756.4,1081.8 759.2,1085.9 762.0,1088.5 766.0,1092.6 770.0,1095.3 773.7,1101.9 777.3,1103.7 781.0,1108.1 783.8,1112.5 786.6,1116.1 789.4,1120.7 792.2,1123.2 795.0,1126.8 799.3,1131.1 803.7,1134.6 808.0,1139.4 811.0,1141.2 814.0,1148.1 817.0,1150.3 820.0,1153.0" fill="none" stroke="#00ff00" stroke-width="9" stroke-linejoin="round" stroke-linecap="round" stroke-dasharray="17 24"/>
<polyline points="820.0,1153.0 824.0,1154.6 828.0,1160.6 832.0,1159.8 836.0,1165.1 840.0,1165.2 845.0,1168.6 850.0,1174.5 855.0,1173.7 859.1,1178.5 863.3,1180.5 867.4,1183.4 871.6,1186.4 875.7,1187.9 879.9,1193.6 884.0,1193.2 888.4,1195.2 892.8,1195.7 897.2,1198.2 901.6,1200.2 906.0,1203.8 911.0,1202.8 916.0,1202.9 921.0,1204.8 926.0,1209.3 931.0,1206.5 936.0,1210.2 941.0,1210.5 945.8,1212.5 950.6,1211.9 955.4,1214.2 960.2,1214.2 965.0,1215.7 969.7,1218.3 974.4,1218.5 979.1,1218.1 983.9,1219.4 988.6,1224.8 993.3,1224.4 998.0,1224.7 1003.0,1228.4 1008.0,1227.1 1013.0,1228.2 1018.0,1229.3 1023.0,1227.1 1027.7,1228.9 1032.4,1232.8 1037.1,1231.1 1041.9,1235.4 1046.6,1234.1 1051.3,1238.3 1056.0,1239.9 1060.7,1241.5 1065.3,1241.5 1070.0,1240.5 1074.7,1239.7 1079.3,1240.0 1084.0,1242.1 1089.2,1242.7 1094.3,1241.4 1099.5,1245.8 1104.7,1244.7 1109.8,1246.2 1115.0,1244.8 1120.4,1245.7 1125.8,1245.5 1131.2,1247.7 1136.6,1248.2 1142.0,1249.7 1146.7,1250.2 1151.4,1252.9 1156.1,1253.9 1160.9,1251.4 1165.6,1253.1 1170.3,1252.8 1175.0,1255.7 1180.0,1257.5 1185.0,1254.5 1190.0,1257.4 1195.0,1255.7 1200.0,1254.9 1205.0,1259.2 1210.0,1258.3 1215.0,1258.5 1220.0,1260.7 1225.0,1260.8 1230.0,1262.6 1235.0,1263.8 1239.7,1263.5 1244.3,1264.1 1249.0,1262.6 1253.7,1261.6 1258.3,1261.3 1263.0,1261.3 1267.7,1263.8 1272.4,1263.8 1277.1,1266.5 1281.9,1265.9 1286.6,1267.5 1291.3,1269.4 1296.0,1266.1 1300.8,1265.7 1305.7,1266.1 1310.5,1267.0 1315.3,1267.7 1320.2,1268.2 1325.0,1266.3 1329.7,1269.5 1334.4,1265.7 1339.1,1269.8 1343.9,1267.4 1348.6,1270.8 1353.3,1267.5 1358.0,1272.0 1363.4,1271.9 1368.8,1273.8 1374.2,1272.8 1379.6,1271.8 1385.0,1276.1 1389.9,1273.9 1394.7,1272.5 1399.6,1274.9 1404.4,1274.6 1409.3,1274.6 1414.1,1273.3 1419.0,1273.3 1424.4,1275.4 1429.8,1274.8 1435.2,1273.4 1440.6,1274.7 1446.0,1276.0 1450.7,1276.2 1455.4,1275.4 1460.1,1275.4 1464.9,1275.5 1469.6,1275.2 1474.3,1275.4 1479.0,1276.8 1484.0,1275.9 1489.0,1279.2 1494.0,1279.7 1499.0,1279.9 1504.0,1280.0" fill="none" stroke="#00ff00" stroke-width="9" stroke-linejoin="round" stroke-linecap="round" stroke-dasharray="23 38"/>
<polyline points="431.0,497.0 431.1,491.7 431.3,486.1 431.4,479.9 431.5,477.9 431.7,469.0 431.8,466.0 432.2,462.9 432.6,454.4 433.1,451.6 433.5,447.0 434.9,440.1 436.2,437.2 437.6,434.2 438.8,428.2 440.1,424.4 441.3,417.0 442.5,412.4 449.1,408.7 450.7,404.9 452.4,401.3 454.0,394.3 460.6,391.9 462.2,385.3 463.9,381.9 465.5,374.2 467.1,370.1 470.4,366.8 473.7,362.1 476.1,366.2 478.6,370.2 481.3,366.2 484.1,361.3 486.8,356.8 491.7,357.6 492.9,349.6 494.2,347.3 495.4,341.9 496.7,332.9 500.8,335.2 504.9,336.5 506.2,329.8 507.5,327.0 508.8,324.5 510.1,316.4 511.4,313.9 514.7,315.9 518.0,322.0 519.1,319.1 520.2,311.7 521.3,306.4 525.4,306.0 529.5,307.2 531.1,301.0 532.8,297.5 534.4,295.5 537.7,294.1 541.0,288.5 544.2,293.4 547.5,299.4 549.7,292.6 551.9,290.4 554.1,284.2 555.4,290.9 556.7,297.2 558.0,298.0 560.5,296.5 563.1,293.1 565.6,287.4 568.0,291.6 570.5,298.5 573.0,302.2 575.4,302.0 578.1,301.3 580.9,299.1 583.6,292.6 586.5,298.0 589.4,299.2 592.2,304.3 595.1,309.4 600.0,309.8 605.0,311.5 607.5,312.6 609.9,317.8 612.3,325.0 614.8,328.7 618.1,332.2 621.4,336.1 625.5,341.1 629.6,341.7 632.0,344.2 634.5,352.6 637.8,357.0 641.9,360.0 646.0,361.5 649.3,366.7 652.6,370.2 654.2,373.0 655.9,379.2 657.5,380.8 662.4,386.2 667.3,385.3 669.8,391.9 672.2,395.3 674.4,397.7 676.6,402.5 678.8,404.3 682.9,402.3 687.0,396.9 687.5,391.1 688.1,389.4 688.6,382.0 689.2,377.0 689.8,374.2 690.3,367.1 690.8,363.8 691.2,356.9 691.7,355.2 692.2,347.9 692.7,342.3 693.1,341.7 693.6,333.5 694.3,331.8 695.0,326.8 695.8,320.1 696.5,312.4 697.2,307.5 698.0,303.0 698.7,298.7 699.4,294.6 699.9,291.6 700.4,284.3 701.0,278.8 701.5,276.1 702.0,269.7 702.5,264.9 703.6,262.4 704.8,258.4 706.0,251.1 707.1,248.2 707.7,244.4 708.3,239.8 708.9,233.2 709.5,230.6 710.1,222.5 711.0,220.1 711.9,215.4 712.9,211.0 713.8,204.5 714.7,197.8 716.6,193.4 718.5,191.4 720.4,185.6 722.3,183.5 726.8,181.1 731.4,184.1 736.0,183.9 740.6,185.3 743.7,190.6 746.7,196.4 749.7,200.9 752.8,204.2 755.8,207.4 756.9,214.0 758.1,221.4 759.2,224.9 760.4,232.0 761.9,232.3 763.4,240.8 765.0,244.6 766.5,247.3 768.0,251.5 768.9,256.4 769.8,263.0 770.8,264.1 771.7,271.5 772.6,276.0 774.1,280.3 775.7,287.5 777.2,292.8 778.7,295.5 779.3,302.6 779.9,306.1 780.5,310.8 781.1,316.0 781.7,318.0 784.3,325.6 786.8,329.6 789.4,337.0 790.1,338.8 790.8,346.0 791.4,350.3 792.1,354.5 792.8,360.3 794.2,361.5 795.6,368.9 797.0,373.9 798.3,378.7 799.7,381.9 801.0,384.9 801.8,390.1 802.6,396.6 803.4,399.4 804.1,403.6 804.9,409.6 805.7,414.8 806.7,420.1 807.7,423.0 808.7,431.4 809.6,434.5 810.6,441.6 811.6,443.2 812.8,452.5 813.9,455.9 815.1,462.7 816.3,467.8 817.4,472.2 818.6,474.1 819.4,480.2 820.2,484.8 821.0,492.3 821.7,494.8 822.5,500.0 823.3,504.6 826.8,509.3 830.3,517.6 831.0,522.5 831.6,524.5 832.3,530.8 833.0,534.3 833.7,539.2 834.3,543.2 835.0,549.1 836.3,552.0 837.7,556.8 839.0,562.7 840.4,566.0 841.7,571.7 843.1,578.7 844.4,579.3 845.6,584.3 846.7,592.1 847.9,593.5 849.1,599.0 850.2,606.4 851.4,610.0 856.1,610.6 856.9,614.8 857.7,620.7 858.5,625.8 859.3,632.9 860.0,638.7 860.8,642.8 861.6,648.3 862.4,653.3 863.2,658.1 865.0,662.9 866.7,667.8 868.5,668.6 870.2,674.3 872.1,678.3 874.0,684.3 875.9,688.1 877.8,691.9 879.7,698.4 880.9,701.2 882.0,705.0 883.2,710.0 884.4,715.5 886.4,720.1 888.3,723.8 890.3,727.1 891.2,731.3 892.0,737.5 892.9,742.5 893.8,747.1 896.1,752.8 898.5,755.3 900.9,761.7 903.2,765.6 905.1,768.0 906.9,774.8 908.8,778.2 910.6,783.4 912.5,788.8 916.0,791.8 919.6,794.7 921.4,798.1 923.1,799.9 924.9,805.5 926.6,808.7 928.5,811.6 930.5,818.2 932.5,822.2 934.4,828.2 936.3,830.1 938.3,836.7 943.0,838.4 947.7,839.7 952.4,845.6 954.0,848.4 955.5,854.1 957.1,856.8 961.0,860.4 964.9,868.4 968.8,868.4 971.1,873.1 973.5,877.4 975.8,881.3 978.2,888.7 980.5,893.7 984.0,895.1 987.5,896.9 991.1,902.0 994.6,903.2 997.9,904.9 1001.2,910.6 1004.4,912.4 1007.7,915.3 1011.0,918.8 1015.1,922.6 1019.2,925.3 1023.3,930.7 1027.4,935.3 1031.5,936.9 1035.6,937.4 1039.7,943.3 1043.8,943.3 1048.5,948.4 1053.2,953.3 1057.9,955.6 1062.0,960.1 1066.1,963.0 1070.2,964.4 1074.3,967.3 1079.6,970.4 1084.8,973.2 1090.1,973.0 1095.4,975.2 1099.5,978.7 1103.6,978.7 1107.7,981.6 1111.8,983.1 1116.0,986.7 1120.2,984.6 1124.5,987.2 1128.7,991.6 1132.9,993.0 1137.2,991.7 1141.5,993.0 1145.7,994.5 1150.0,997.1 1154.6,1001.3 1159.1,1001.0 1163.7,1003.6 1168.8,1006.6 1174.0,1006.3 1179.2,1009.1 1184.3,1010.6 1189.2,1010.8 1194.1,1010.3 1199.0,1009.8 1204.0,1008.4 1208.9,1012.2 1213.8,1010.9 1218.7,1011.6 1222.1,1015.8 1225.5,1020.7 1230.1,1018.9 1234.7,1020.5 1239.2,1020.7 1243.8,1016.9 1248.4,1018.1 1253.0,1020.4 1258.8,1017.6 1264.5,1016.2 1269.1,1014.6 1273.7,1017.9 1278.2,1021.5 1282.8,1021.6 1287.4,1024.0 1292.7,1025.0 1298.1,1021.1 1303.4,1020.2 1308.7,1023.3 1314.1,1021.7 1319.4,1019.7 1324.0,1024.7 1328.6,1024.6 1333.2,1026.2 1338.1,1027.1 1343.0,1026.1 1347.9,1027.9 1352.8,1029.7 1357.7,1028.5 1362.6,1030.9 1367.5,1027.0 1371.3,1029.5 1375.1,1031.2 1378.9,1035.0 1383.5,1034.3 1388.1,1037.3 1392.6,1037.6 1397.2,1038.7 1401.8,1040.8 1405.6,1044.4 1409.5,1048.8 1413.3,1049.2 1417.9,1051.5 1422.5,1055.5 1427.0,1054.4 1431.6,1055.3 1436.2,1057.5 1441.5,1058.5 1446.9,1063.7 1452.2,1065.1 1456.8,1063.8 1461.3,1068.8 1465.9,1068.0 1470.5,1067.9 1475.1,1072.6 1479.6,1077.1 1484.2,1077.5 1488.8,1077.8 1493.4,1080.3 1498.0,1081.4 1502.6,1085.2 1507.9,1086.5 1513.3,1091.2 1518.6,1090.6 1521.6,1093.6 1524.7,1099.4 1527.7,1101.7 1532.3,1104.9 1536.9,1106.8 1540.9,1108.9 1544.9,1113.1 1548.9,1116.7 1552.9,1116.5 1556.0,1120.8 1559.0,1122.5 1562.1,1128.1 1566.7,1127.7 1571.2,1126.5 1575.8,1130.8 1580.4,1129.6 1583.8,1131.8 1587.2,1134.5 1590.7,1140.9 1594.1,1143.2 1599.2,1143.4 1604.4,1146.0 1609.5,1148.4 1614.7,1147.3 1620.1,1150.1 1625.4,1150.1 1630.8,1151.1 1634.2,1151.8 1637.6,1158.6 1641.9,1158.4 1646.1,1160.0 1650.4,1158.0 1655.4,1161.3 1660.5,1164.3 1665.5,1163.9 1670.5,1166.7 1674.5,1170.8 1678.6,1169.4 1682.6,1175.9 1686.7,1175.5 1690.7,1178.5 1695.7,1178.8 1700.8,1182.0 1705.8,1181.8 1710.8,1183.8 1715.8,1182.5 1720.9,1187.4 1726.0,1188.7 1731.0,1189.6 1736.0,1186.6 1741.0,1185.7 1746.1,1185.6 1751.1,1182.9 1756.1,1188.3 1761.2,1187.4 1766.2,1191.3 1771.2,1189.4 1776.2,1193.0 1781.3,1195.1 1786.4,1195.9 1791.4,1196.5 1796.4,1194.7 1801.5,1196.5 1806.5,1196.3 1811.5,1198.8 1816.5,1199.9 1821.6,1200.9 1826.7,1202.0 1831.7,1199.4 1836.7,1199.6 1841.8,1201.5 1846.8,1201.0 1851.8,1202.2 1856.8,1204.5 1861.9,1203.1 1867.0,1205.1 1872.0,1204.4 1877.0,1205.4 1882.0,1210.0 1887.1,1208.1 1892.1,1212.7 1897.1,1211.9 1902.2,1213.2 1907.2,1211.7 1912.3,1215.1 1917.3,1216.5 1922.3,1214.2 1927.4,1216.1 1932.4,1217.7 1937.5,1217.4 1942.5,1219.1 1947.5,1219.1 1952.6,1218.2 1957.6,1219.8 1962.7,1220.2 1967.7,1218.8 1972.7,1219.4 1977.8,1219.8 1982.8,1219.4 1987.9,1217.9 1992.9,1219.6 1997.9,1221.0 2003.0,1220.5 2008.0,1217.4 2013.0,1219.0" fill="none" stroke="#ff00ff" stroke-width="9" stroke-linejoin="round" stroke-linecap="round"/>
<polyline points="412.0,421.0 413.5,416.1 415.0,410.2 416.5,405.6 418.0,398.7 419.0,395.9 420.0,390.4 421.0,384.2 422.0,376.5 424.7,374.8 427.3,370.6 430.0,366.9 432.0,365.7 434.0,361.5 436.0,353.0 438.4,352.6 440.8,347.5 443.2,342.5 445.6,338.0 448.0,335.8 450.3,330.5 452.7,327.2 455.0,322.7 457.8,316.1 460.5,314.7 463.2,311.4 466.0,307.1 469.0,302.2 472.0,296.5 475.0,293.1 478.0,290.4 481.3,289.9 484.7,283.1 488.0,279.4 491.5,276.8 495.0,269.2 498.3,267.5 501.7,264.4 505.0,260.1 510.0,259.4 515.0,257.5 520.0,251.8 525.0,249.5 530.0,247.6 535.0,246.6 540.0,249.3 545.0,251.4 550.0,252.0 555.0,252.8 560.0,255.6 565.0,255.1 570.0,259.6 575.0,261.4 579.0,265.8 583.0,267.0 587.0,273.2 590.6,273.8 594.2,277.7 597.8,284.2 601.4,288.4 605.0,289.7 607.5,293.4 610.0,296.4 612.5,300.3 615.0,305.5 618.2,307.3 621.5,310.8 624.8,316.1 628.0,318.5 631.0,324.4 634.0,328.9 637.0,332.5 640.0,334.9 643.0,338.6 646.0,343.2 649.0,345.6 652.0,352.9 654.0,355.9 656.0,360.4 658.0,364.0 660.0,370.2 662.0,375.4 664.5,378.8 667.0,385.1 669.5,388.5 672.0,390.9 674.7,395.8 677.3,401.1 680.0,403.1 681.6,398.8 683.2,391.9 684.8,389.2 686.4,384.4 688.0,379.6 688.6,374.6 689.2,370.4 689.8,365.2 690.4,360.0 691.0,353.5 691.6,349.7 692.2,347.1 692.8,339.6 693.4,333.0 694.0,327.8 695.1,325.4 696.2,318.5 697.3,313.9 698.4,309.2 699.6,305.9 700.7,303.5 701.8,296.5 702.9,291.6 704.0,286.7 704.7,282.3 705.3,277.3 706.0,273.7 706.7,269.8 707.3,264.1 708.0,258.2 708.7,254.4 709.3,250.8 710.0,242.7 710.7,238.3 711.3,235.3 712.0,230.8 717.0,233.6 722.0,236.4 723.5,242.4 725.0,245.9 726.5,252.4 728.0,258.0 729.6,260.9 731.2,268.0 732.8,272.6 734.4,278.5 736.0,280.0 737.6,288.6 739.2,292.8 740.8,298.4 742.4,303.3 744.0,305.1 744.9,311.7 745.7,314.4 746.6,321.4 747.4,327.8 748.3,329.6 749.1,335.3 750.0,339.2 750.7,344.3 751.3,349.0 752.0,353.2 752.7,361.9 753.3,366.0 754.0,368.8 755.1,374.8 756.3,379.3 757.4,383.2 758.6,387.5 759.7,393.3 760.9,397.5 762.0,401.0 763.0,406.8 764.0,413.4 765.0,418.8 766.0,422.3 767.0,429.5 767.9,435.6 768.7,440.6 769.6,444.7 770.4,447.1 771.3,453.7 772.1,457.2 773.0,462.0 774.6,467.7 776.2,473.4 777.8,479.5 779.4,483.8 781.0,487.0 781.4,493.9 781.9,498.0 782.3,503.0 782.7,507.0 783.1,512.7 783.6,517.3 784.0,524.0 785.6,528.1 787.2,533.2 788.8,538.5 790.4,543.7 792.0,549.8 793.0,555.0 794.0,560.3 795.0,563.6 796.0,570.3 797.0,576.0 798.0,581.2 799.0,585.0 800.2,586.7 801.4,594.7 802.6,599.3 803.8,600.3 805.0,606.2 805.7,611.2 806.4,618.1 807.1,622.5 807.9,626.0 808.6,630.6 809.3,635.5 810.0,640.2 811.4,648.5 812.8,654.3 814.2,656.4 815.6,663.9 817.0,670.0 818.4,671.8 819.9,678.6 821.3,683.2 822.7,690.7 824.1,695.3 825.6,696.7 827.0,702.7 828.5,709.9 830.0,713.0 831.5,717.1 833.0,722.7 834.5,726.8 836.0,732.0 837.7,734.2 839.4,738.0 841.1,745.8 842.9,748.0 844.6,755.3 846.3,761.6 848.0,764.5 849.8,770.7 851.5,774.1 853.2,779.2 855.0,786.5 857.3,792.9 859.7,798.9 862.0,799.9 864.0,808.1 866.0,810.5 868.0,814.1 870.0,818.5 872.6,823.6 875.1,826.9 877.7,830.3 880.3,837.8 882.9,841.3 885.4,845.2 888.0,850.0 889.5,854.6 891.0,854.6 893.5,861.8 896.0,866.1 898.5,868.3 901.0,873.6 903.5,877.5 906.0,880.7 908.2,886.1 910.4,889.3 912.6,897.1 914.8,898.2 917.0,904.6 920.2,907.9 923.4,913.3 926.6,916.1 929.8,917.8 933.0,921.5 935.0,924.0 937.0,928.0 939.0,933.2 941.0,940.0 945.0,939.8 949.0,944.1 953.0,949.8 957.0,952.4 960.5,956.1 964.0,964.0 967.4,964.2 970.8,970.8 974.2,974.3 977.6,978.1 981.0,981.7 985.0,985.3 989.0,990.1 993.0,995.4 997.0,997.9 1000.5,1002.0 1004.0,1005.2 1007.5,1004.8 1011.0,1010.7 1015.0,1012.9 1019.0,1015.7 1023.0,1019.6 1027.0,1024.7 1031.8,1024.3 1036.5,1024.7 1041.2,1030.3 1046.0,1028.3 1048.8,1032.1 1051.6,1038.6 1054.4,1040.6 1057.2,1044.3 1060.0,1049.7 1064.0,1053.3 1068.0,1053.5 1072.0,1058.6 1076.0,1059.9 1080.0,1062.5 1085.0,1063.3 1090.0,1062.3 1095.0,1064.1 1100.0,1067.6 1105.0,1068.9 1109.2,1069.1 1113.3,1074.3 1117.5,1076.4 1121.7,1079.7 1125.8,1081.7 1130.0,1083.8 1135.0,1086.9 1140.0,1092.1 1145.0,1091.1 1150.0,1096.6 1153.8,1097.9 1157.5,1098.6 1161.2,1104.6 1165.0,1103.9 1169.8,1109.7 1174.5,1109.8 1179.2,1114.6 1184.0,1116.0 1188.0,1116.0 1192.0,1118.9 1196.0,1122.1 1200.5,1121.3 1205.0,1124.2 1209.5,1127.3 1214.0,1132.4 1218.5,1131.6 1223.0,1133.4 1227.5,1136.8 1232.0,1138.4 1236.8,1139.4 1241.5,1141.7 1246.2,1141.2 1251.0,1142.8 1255.5,1144.7 1260.0,1146.5 1264.5,1151.4 1269.0,1154.1 1273.2,1152.7 1277.4,1156.3 1281.6,1157.1 1285.8,1161.3 1290.0,1164.7 1295.0,1165.5 1300.0,1167.8 1305.0,1167.2 1310.0,1166.0 1315.2,1168.5 1320.5,1169.8 1325.8,1170.3 1331.0,1170.0 1334.5,1175.3 1338.0,1177.5 1341.5,1181.2 1345.0,1182.4 1350.0,1182.1 1355.0,1184.0 1360.0,1184.6 1364.3,1183.8 1368.7,1180.5 1373.0,1178.1 1375.8,1184.4 1378.5,1186.9 1381.2,1191.0 1384.0,1195.3 1389.7,1198.9 1395.3,1200.3 1401.0,1201.4 1405.7,1202.7 1410.3,1205.3 1415.0,1208.1 1419.8,1208.9 1424.5,1211.5 1429.2,1214.7 1434.0,1216.6 1440.0,1216.5 1446.0,1216.6 1450.0,1218.4 1454.0,1219.2 1458.0,1221.9 1462.0,1225.8 1466.8,1225.6 1471.6,1228.6 1476.4,1227.4 1481.2,1229.7 1486.0,1228.3 1491.0,1230.9 1496.0,1235.0 1501.0,1233.8 1506.0,1237.0" fill="none" stroke="#ff00ff" stroke-width="9" stroke-linejoin="round" stroke-linecap="round" stroke-dasharray="16 22"/>
</g>
<g stroke="#000" stroke-width="6" stroke-linecap="round" fill="none">
<path d="M323.0,87.0 L2185.0,87.0 L2185.0,1467.0 L323.0,1467.0 Z" stroke-linecap="square" stroke-linejoin="miter"/>
<line x1="323.3" y1="1467.0" x2="323.3" y2="1494.0"/>
<line x1="530.2" y1="1467.0" x2="530.2" y2="1481.0"/>
<line x1="530.2" y1="87.0" x2="530.2" y2="101.0"/>
<line x1="737.1" y1="1467.0" x2="737.1" y2="1494.0"/>
<line x1="737.1" y1="87.0" x2="737.1" y2="114.0"/>
<line x1="944.0" y1="1467.0" x2="944.0" y2="1481.0"/>
<line x1="944.0" y1="87.0" x2="944.0" y2="101.0"/>
<line x1="1150.9" y1="1467.0" x2="1150.9" y2="1494.0"/>
<line x1="1150.9" y1="87.0" x2="1150.9" y2="114.0"/>
<line x1="1357.8" y1="1467.0" x2="1357.8" y2="1481.0"/>
<line x1="1357.8" y1="87.0" x2="1357.8" y2="101.0"/>
<line x1="1564.7" y1="1467.0" x2="1564.7" y2="1494.0"/>
<line x1="1564.7" y1="87.0" x2="1564.7" y2="114.0"/>
<line x1="1771.6" y1="1467.0" x2="1771.6" y2="1481.0"/>
<line x1="1771.6" y1="87.0" x2="1771.6" y2="101.0"/>
<line x1="1978.5" y1="1467.0" x2="1978.5" y2="1494.0"/>
<line x1="1978.5" y1="87.0" x2="1978.5" y2="114.0"/>
<line x1="2185.4" y1="1467.0" x2="2185.4" y2="1481.0"/>
<line x1="323.0" y1="1310.0" x2="296.0" y2="1310.0"/>
<line x1="2185.0" y1="1310.0" x2="2158.0" y2="1310.0"/>
<line x1="323.0" y1="1135.3" x2="309.0" y2="1135.3"/>
<line x1="2185.0" y1="1135.3" x2="2171.0" y2="1135.3"/>
<line x1="323.0" y1="960.6" x2="296.0" y2="960.6"/>
<line x1="2185.0" y1="960.6" x2="2158.0" y2="960.6"/>
<line x1="323.0" y1="785.9" x2="309.0" y2="785.9"/>
<line x1="2185.0" y1="785.9" x2="2171.0" y2="785.9"/>
<line x1="323.0" y1="611.2" x2="296.0" y2="611.2"/>
<line x1="2185.0" y1="611.2" x2="2158.0" y2="611.2"/>
<line x1="323.0" y1="436.5" x2="309.0" y2="436.5"/>
<line x1="2185.0" y1="436.5" x2="2171.0" y2="436.5"/>
<line x1="323.0" y1="261.8" x2="296.0" y2="261.8"/>
<line x1="2185.0" y1="261.8" x2="2158.0" y2="261.8"/>
<line x1="323.0" y1="87.1" x2="309.0" y2="87.1"/>
<line x1="2185.0" y1="87.1" x2="2171.0" y2="87.1"/>
</g>
<g fill="none" stroke="#000" stroke-width="3.5">
<rect x="1141" y="147" width="371" height="172"/>
<rect x="1547" y="146" width="583" height="418"/>
</g>
<g stroke-width="8" stroke-linecap="round" fill="none">
<line x1="1176" y1="198" x2="1324" y2="198" stroke="#000"/>
<line x1="1176" y1="279.6" x2="1324" y2="279.6" stroke="#000" stroke-dasharray="25 37"/>
<line x1="1584" y1="277.5" x2="1732" y2="277.5" stroke="#ff0000"/>
<line x1="1584" y1="359.6" x2="1732" y2="359.6" stroke="#00ff00"/>
<line x1="1584" y1="441.5" x2="1732" y2="441.5" stroke="#0000ff"/>
<line x1="1584" y1="524.4" x2="1732" y2="524.4" stroke="#ff00ff"/>
</g>
<g fill="#000">
<text transform="translate(0.00,220.80) scale(1,1.0407)" x="1342.28 1381.96 1403.44 1452.23" y="0" font-family="'Liberation Sans', Arial, Helvetica, sans-serif" font-weight="bold" font-size="66.50">F-GP</text>
<text transform="translate(-0.20,304.30) scale(1,1.0407)" x="1342.54 1392.43" y="0" font-family="'Liberation Sans', Arial, Helvetica, sans-serif" font-weight="bold" font-size="66.50">GP</text>
<text transform="translate(0.20,218.20) scale(1,1.0200)" x="1582.98 1623.76 1643.96 1690.93 1733.03 1775.33 1822.06 1839.93 1882.49 1921.09 1936.53 1972.51 2028.55 2066.17 2089.23" y="0" font-family="'Liberation Sans', Arial, Helvetica, sans-serif" font-weight="bold" font-size="66.50">F-DPPC/Polymer:</text>
<text transform="translate(-10.50,301.40) scale(1,1.0407)" x="1778.52 1813.46 1848.61 1884.13 1906.67" y="0" font-family="'Liberation Sans', Arial, Helvetica, sans-serif" font-weight="bold" font-size="66.50">100:1</text>
<text transform="translate(-9.10,383.80) scale(1,1.0407)" x="1775.86 1812.11 1847.58 1869.47" y="0" font-family="'Liberation Sans', Arial, Helvetica, sans-serif" font-weight="bold" font-size="66.50">50:1</text>
<text transform="translate(-9.60,466.20) scale(1,1.0407)" x="1777.09 1812.61 1848.08 1869.97" y="0" font-family="'Liberation Sans', Arial, Helvetica, sans-serif" font-weight="bold" font-size="66.50">20:1</text>
<text transform="translate(-10.30,547.80) scale(1,1.0407)" x="1778.37 1813.31 1848.78 1870.67" y="0" font-family="'Liberation Sans', Arial, Helvetica, sans-serif" font-weight="bold" font-size="66.50">10:1</text>
<text transform="translate(300.20,1572.70) scale(1,1.0407)" x="0" y="0" font-family="'Liberation Sans', Arial, Helvetica, sans-serif" font-weight="bold" font-size="82.50">0</text>
<text transform="translate(-0.20,1572.70) scale(1,1.0407)" x="694.78 736.32" y="0" font-family="'Liberation Sans', Arial, Helvetica, sans-serif" font-weight="bold" font-size="82.50">10</text>
<text transform="translate(1.30,1572.70) scale(1,1.0407)" x="1106.98 1148.82" y="0" font-family="'Liberation Sans', Arial, Helvetica, sans-serif" font-weight="bold" font-size="82.50">20</text>
<text transform="translate(1.50,1572.70) scale(1,1.0407)" x="1520.10 1561.62" y="0" font-family="'Liberation Sans', Arial, Helvetica, sans-serif" font-weight="bold" font-size="82.50">30</text>
<text transform="translate(1.00,1573.10) scale(1,1.0407)" x="1932.66 1976.02" y="0" font-family="'Liberation Sans', Arial, Helvetica, sans-serif" font-weight="bold" font-size="82.50">40</text>
<text transform="translate(234.60,1330.20) scale(1,1.0407)" x="0" y="0" font-family="'Liberation Sans', Arial, Helvetica, sans-serif" font-weight="bold" font-size="81.50">0</text>
<text transform="translate(0.70,980.80) scale(1,1.0407)" x="191.06 233.10" y="0" font-family="'Liberation Sans', Arial, Helvetica, sans-serif" font-weight="bold" font-size="81.50">20</text>
<text transform="translate(2.10,630.80) scale(1,1.0407)" x="188.24 231.70" y="0" font-family="'Liberation Sans', Arial, Helvetica, sans-serif" font-weight="bold" font-size="81.50">40</text>
<text transform="translate(1.00,282.40) scale(1,1.0407)" x="190.22 233.50" y="0" font-family="'Liberation Sans', Arial, Helvetica, sans-serif" font-weight="bold" font-size="81.50">60</text>
<text transform="translate(1065.20,1722.60) scale(1,1.0000)" x="0" y="0" font-family="'Liberation Serif', 'Times New Roman', serif" font-weight="bold" font-size="77.70">Π</text>
<text transform="translate(1144.20,1721.20) scale(1,1.0407)" x="0" y="0" font-family="'Liberation Sans', Arial, Helvetica, sans-serif" font-weight="bold" font-size="81.50">/</text>
<text transform="translate(0.10,1722.20) scale(1,1.0000)" x="1187.01 1255.49" y="0" font-family="'Liberation Sans', Arial, Helvetica, sans-serif" font-weight="bold" font-size="81.50">mN</text>
<text transform="translate(1332.60,1722.20) scale(1,1.0000)" x="0" y="0" font-family="'Liberation Sans', Arial, Helvetica, sans-serif" font-weight="bold" font-size="81.50">m</text>
<text transform="translate(-8.20,1679.00) scale(1,1.0407)" x="1409.38 1425.85" y="0" font-family="'Liberation Sans', Arial, Helvetica, sans-serif" font-weight="bold" font-size="49.50">-1</text>
<g transform="translate(129,0) rotate(-90)"><text transform="translate(-1360.20,2.40) scale(1,1.0000)" x="0" y="0" font-family="'Liberation Serif', 'Times New Roman', serif" font-weight="bold" font-size="78.73">Δ</text></g>
<g transform="translate(129,0) rotate(-90)"><text transform="translate(-1314.00,0.40) scale(1,1.0407)" x="0" y="0" font-family="'Liberation Sans', Arial, Helvetica, sans-serif" font-weight="bold" font-size="81.50">A</text></g>
<g transform="translate(129,0) rotate(-90)"><text transform="translate(-1233.60,-2.60) scale(1,1.0407)" x="0" y="0" font-family="'Liberation Sans', Arial, Helvetica, sans-serif" font-weight="bold" font-size="81.50">=</text></g>
<g transform="translate(129,0) rotate(-90)"><text transform="translate(-1142.60,-0.20) scale(1,1.0407)" x="0" y="0" font-family="'Liberation Sans', Arial, Helvetica, sans-serif" font-weight="bold" font-size="81.50">A</text></g>
<g transform="translate(129,0) rotate(-90)"><text transform="translate(-1.35,31.00) scale(1,1.0000)" x="-1083.24 -1056.70 -1029.28" y="0" font-family="'Liberation Sans', Arial, Helvetica, sans-serif" font-weight="bold" font-size="49.50">exp</text></g>
<g transform="translate(129,0) rotate(-90)"><text transform="translate(-977.60,1.60) scale(1,1.0407)" x="0" y="0" font-family="'Liberation Sans', Arial, Helvetica, sans-serif" font-weight="bold" font-size="81.50">-</text></g>
<g transform="translate(129,0) rotate(-90)"><text transform="translate(-931.40,-0.40) scale(1,1.0407)" x="0" y="0" font-family="'Liberation Sans', Arial, Helvetica, sans-serif" font-weight="bold" font-size="81.50">A</text></g>
<g transform="translate(129,0) rotate(-90)"><text transform="translate(-0.60,31.60) scale(1,1.0000)" x="-871.81 -845.05 -818.65 -805.61" y="0" font-family="'Liberation Sans', Arial, Helvetica, sans-serif" font-weight="bold" font-size="49.50">calc</text></g>
<g transform="translate(129,0) rotate(-90)"><text transform="translate(-758.40,-0.60) scale(1,1.0407)" x="0" y="0" font-family="'Liberation Sans', Arial, Helvetica, sans-serif" font-weight="bold" font-size="81.50">/</text></g>
<g transform="translate(129,0) rotate(-90)"><text transform="translate(-713.60,0.40) scale(1,1.0407)" x="0" y="0" font-family="'Liberation Sans', Arial, Helvetica, sans-serif" font-weight="bold" font-size="81.50">Å</text></g>
<g transform="translate(129,0) rotate(-90)"><text transform="translate(-654.20,-43.20) scale(1,1.0407)" x="0" y="0" font-family="'Liberation Sans', Arial, Helvetica, sans-serif" font-weight="bold" font-size="49.50">2</text></g>
<g transform="translate(129,0) rotate(-90)"><text transform="translate(1.10,-0.60) scale(1,1.0000)" x="-607.79 -536.39 -486.98 -465.46 -421.96 -377.33 -327.78 -306.36" y="0" font-family="'Liberation Sans', Arial, Helvetica, sans-serif" font-weight="bold" font-size="81.50">molecule</text></g>
<g transform="translate(129,0) rotate(-90)"><text transform="translate(-7.00,-43.20) scale(1,1.0407)" x="-253.62 -236.35" y="0" font-family="'Liberation Sans', Arial, Helvetica, sans-serif" font-weight="bold" font-size="49.50">-1</text></g>
</g>
</svg>
</body></html>
